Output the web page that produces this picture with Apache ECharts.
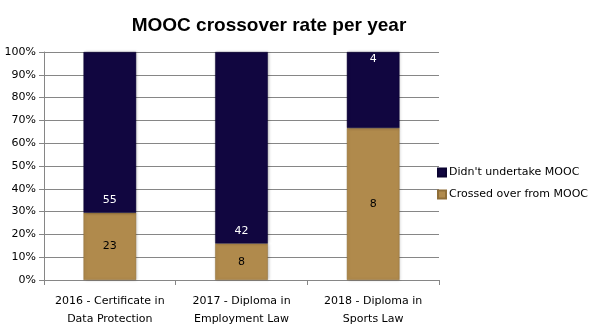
<!DOCTYPE html>
<html>
<head>
<meta charset="utf-8">
<script src="https://cdn.jsdelivr.net/npm/echarts@6/dist/echarts.min.js"></script>
<style>html,body{margin:0;padding:0;background:#fff}#c{width:602px;height:332px}</style>
</head>
<body>
<div id="c"></div>
<script>
var categories = ['2016 - Certificate in\nData Protection', '2017 - Diploma in\nEmployment Law', '2018 - Diploma in\nSports Law'];
var crossedOver = [23, 8, 8];
var didntUndertake = [55, 42, 4];
var yTicks = [0, 10, 20, 30, 40, 50, 60, 70, 80, 90, 100];

var totals = crossedOver.map(function (v, i) { return v + didntUndertake[i]; });
var darkLabelPos = ['insideBottom', 'insideBottom', 'insideTop'];
var darkLabelDist = [7, 7, 2];
function pct(arr, posList, distList) {
  return arr.map(function (v, i) {
    var d = { value: v / totals[i] * 100, count: v };
    if (posList) d.label = { position: posList[i], distance: distList[i] };
    return d;
  });
}

var chart = echarts.init(document.getElementById('c'), null, { renderer: 'canvas' });
var font = 'Tahoma, "DejaVu Sans", Verdana, sans-serif';
chart.setOption({
  animation: false,
  title: {
    text: 'MOOC crossover rate per year',
    left: 264, top: 11, textAlign: 'center',
    textStyle: { fontFamily: '"Liberation Sans", Arial, sans-serif', fontWeight: 'bold', fontSize: 19, color: '#000' }
  },
  legend: {
    data: ["Didn't undertake MOOC", 'Crossed over from MOOC'],
    orient: 'vertical', left: 437, top: 167, padding: 0,
    itemWidth: 8, itemHeight: 8, itemGap: 11,
    icon: 'rect',
    textStyle: { fontFamily: font, fontSize: 11, color: '#000', padding: [0, 0, 0, -2] }
  },
  grid: { left: 44, right: 163, top: 52, bottom: 52 },
  xAxis: {
    type: 'category', data: categories,
    axisLine: { lineStyle: { color: '#868686' } },
    axisTick: { show: true, length: 5, lineStyle: { color: '#868686' } },
    axisLabel: { interval: 0, fontFamily: font, fontSize: 11, color: '#000', lineHeight: 18, margin: 12 }
  },
  yAxis: {
    type: 'value', min: 0, max: 100, interval: 10,
    axisLine: { show: true, lineStyle: { color: '#868686' } },
    axisTick: { show: true, length: 5, lineStyle: { color: '#868686' } },
    splitLine: { lineStyle: { color: '#868686' } },
    axisLabel: {
      fontFamily: font, fontSize: 11, color: '#000', margin: 8,
      formatter: function (v) { return yTicks.indexOf(v) >= 0 ? v + '%' : ''; }
    }
  },
  series: [
    {
      name: 'Crossed over from MOOC', type: 'bar', stack: 'a', barWidth: '40%',
      data: pct(crossedOver),
      itemStyle: {
        color: '#b08a4c', borderColor: '#8f6e38', borderWidth: 0.5,
        shadowColor: 'rgba(0,0,0,0.2)', shadowBlur: 3, shadowOffsetX: 1
      },
      label: {
        show: true, position: 'inside', color: '#000', fontFamily: font, fontSize: 11,
        formatter: function (p) { return p.data.count; }
      }
    },
    {
      name: "Didn't undertake MOOC", type: 'bar', stack: 'a', barWidth: '40%',
      data: pct(didntUndertake, darkLabelPos, darkLabelDist),
      itemStyle: {
        color: '#110640', borderColor: '#0a0330', borderWidth: 0.5,
        shadowColor: 'rgba(0,0,0,0.2)', shadowBlur: 3, shadowOffsetX: 1
      },
      label: {
        show: true, position: 'insideBottom', distance: 7, color: '#fff', fontFamily: font, fontSize: 11,
        formatter: function (p) { return p.data.count; }
      }
    }
  ]
});
</script>
</body>
</html>
